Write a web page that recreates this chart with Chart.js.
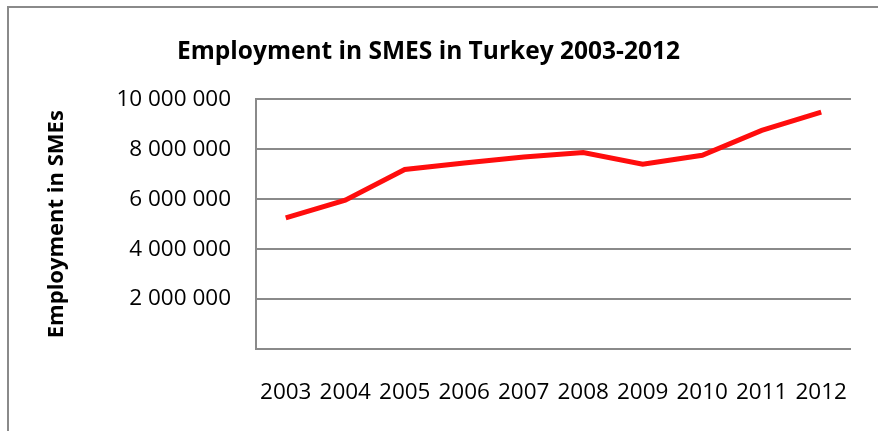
<!DOCTYPE html>
<html>
<head>
<meta charset="utf-8">
<title>Employment in SMES in Turkey 2003-2012</title>
<script src="https://cdn.jsdelivr.net/npm/chart.js@4.4.1/dist/chart.umd.min.js"></script>
<style>
  html, body { margin: 0; padding: 0; background: #fff; overflow: hidden; }
  #frame {
    position: absolute; left: 7px; top: 6px; width: 2000px; height: 2000px;
    border-top: 2px solid #8a8a8a; border-left: 2px solid #8a8a8a;
  }
  #wrap { position: absolute; left: 0; top: 0; width: 878px; height: 431px; }
</style>
</head>
<body>
<div id="frame"></div>
<div id="wrap"><canvas id="sme-chart"></canvas></div>
<script>
const years = ["2003", "2004", "2005", "2006", "2007", "2008", "2009", "2010", "2011", "2012"];
const employment = [5250000, 5960000, 7190000, 7450000, 7690000, 7870000, 7400000, 7760000, 8760000, 9490000];
const yTicks = [0, 2000000, 4000000, 6000000, 8000000, 10000000];

const gridGray = "#8a8a8a";
const tickFont = { family: "'Open Sans', sans-serif", size: 22.5 };

function formatSpaced(v) {
  if (v === 0) return "";
  return String(v).replace(/\B(?=(\d{3})+(?!\d))/g, " ");
}

new Chart(document.getElementById("sme-chart").getContext("2d"), {
  type: "line",
  data: {
    labels: years,
    datasets: [
      {
        label: "Employment in SMEs",
        data: employment,
        borderColor: "#ff0d0d",
        borderWidth: 5,
        pointRadius: 0,
        tension: 0,
        fill: false,
      },
    ],
  },
  options: {
    responsive: true,
    maintainAspectRatio: false,
    animation: false,
    layout: { padding: { left: 0, right: 21, top: 0, bottom: 0 } },
    plugins: {
      legend: { display: false },
      tooltip: { enabled: false },
      title: {
        display: true,
        text: "Employment in SMES in Turkey 2003-2012",
        color: "#000",
        font: { family: "'Open Sans', sans-serif", size: 24.5, weight: "bold" },
        padding: { top: 37, bottom: 33 },
      },
    },
    scales: {
      x: {
        offset: true,
        grid: { display: false, drawTicks: false },
        border: { display: true, color: gridGray, width: 2 },
        ticks: { color: "#000", font: tickFont, padding: 30, maxRotation: 0 },
        afterFit: (scale) => { scale.height = 82; },
      },
      y: {
        min: 0,
        max: 10000000,
        afterBuildTicks: (scale) => { scale.ticks = yTicks.map((v) => ({ value: v })); },
        grid: { color: gridGray, lineWidth: 2, drawTicks: false },
        border: { display: true, color: gridGray, width: 2 },
        ticks: { color: "#000", font: tickFont, padding: 25, callback: formatSpaced },
        title: {
          display: true,
          text: "Employment in SMEs",
          color: "#000",
          font: { family: "'Open Sans', sans-serif", size: 22, weight: "bold" },
          padding: { top: 44, bottom: 0 },
        },
        afterFit: (scale) => { scale.width = 256; },
      },
    },
  },
});
</script>
</body>
</html>
